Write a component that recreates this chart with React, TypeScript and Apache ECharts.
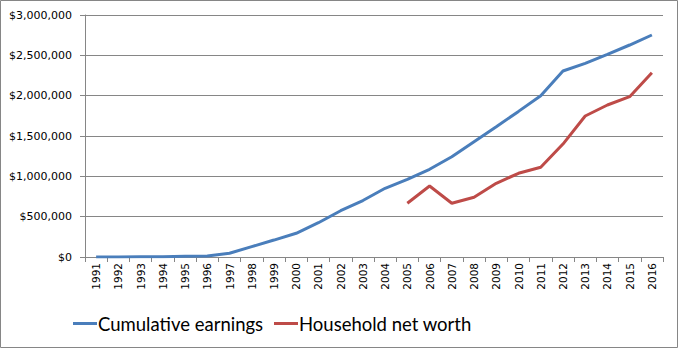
import React, { useEffect, useRef } from "react";
import * as echarts from "echarts";

const years = [
  "1991", "1992", "1993", "1994", "1995", "1996", "1997", "1998", "1999", "2000",
  "2001", "2002", "2003", "2004", "2005", "2006", "2007", "2008", "2009", "2010",
  "2011", "2012", "2013", "2014", "2015", "2016",
];

const cumulativeEarnings = [
  0, 1000, 2000, 3000, 8000, 12000, 46000, 128000, 210000, 294000,
  425000, 574000, 700000, 852000, 963000, 1087000, 1243000, 1430000, 1615000, 1805000,
  2000000, 2306000, 2401000, 2513000, 2628000, 2752000,
];

const householdNetWorth = [
  null, null, null, null, null, null, null, null, null, null,
  null, null, null, null, 666000, 880000, 666000, 740000, 914000, 1038000,
  1112000, 1400000, 1748000, 1884000, 1987000, 2285000,
];

const seriesNames = ["Cumulative earnings", "Household net worth"];

function formatDollar(v: number): string {
  return "$" + v.toString().replace(/\B(?=(\d{3})+(?!\d))/g, ",");
}

export default function App() {
  const ref = useRef<HTMLDivElement>(null);
  useEffect(() => {
    if (!ref.current) return;
    const chart = echarts.init(ref.current, undefined, { renderer: "svg" });
    const legendBase = {
      top: 309,
      icon: "rect",
      itemWidth: 24,
      itemHeight: 3,
      textStyle: {
        fontFamily: "Lato",
        fontSize: 18.5,
        color: "#000000",
        padding: [0, 0, 0, -4],
      },
    };
    chart.setOption({
      animation: false,
      backgroundColor: "#ffffff",
      graphic: [
        {
          type: "rect",
          shape: { x: 0.5, y: 0.5, width: 677, height: 347 },
          style: { fill: "none", stroke: "#868686", lineWidth: 1 },
          silent: true,
        },
      ],
      grid: { left: 85, right: 16, top: 15, bottom: 92 },
      legend: [
        { ...legendBase, left: 68, data: [seriesNames[0]] },
        { ...legendBase, left: 269, data: [seriesNames[1]] },
      ],
      xAxis: {
        type: "category",
        data: years,
        boundaryGap: true,
        axisLine: { lineStyle: { color: "#868686" } },
        axisTick: { show: true, length: 5, lineStyle: { color: "#868686" } },
        axisLabel: {
          rotate: 90,
          interval: 0,
          fontFamily: "DejaVu Sans",
          fontSize: 10.5,
          color: "#000000",
          margin: 6,
        },
      },
      yAxis: {
        type: "value",
        min: 0,
        max: 3000000,
        interval: 500000,
        axisLine: { show: true, lineStyle: { color: "#868686" } },
        axisTick: { show: true, length: 5, lineStyle: { color: "#868686" } },
        splitLine: { lineStyle: { color: "#868686" } },
        axisLabel: {
          formatter: (v: number) => formatDollar(v),
          fontFamily: "DejaVu Sans",
          fontSize: 11,
          color: "#000000",
          margin: 13,
        },
      },
      series: [
        {
          name: seriesNames[0],
          type: "line",
          data: cumulativeEarnings,
          symbol: "none",
          lineStyle: { color: "#4a7ebb", width: 3 },
          itemStyle: { color: "#4a7ebb" },
        },
        {
          name: seriesNames[1],
          type: "line",
          data: householdNetWorth,
          symbol: "none",
          connectNulls: false,
          lineStyle: { color: "#be4b48", width: 3 },
          itemStyle: { color: "#be4b48" },
        },
      ],
    });
    return () => chart.dispose();
  }, []);
  return (
    <div
      ref={ref}
      style={{ position: "absolute", left: 0, top: 0, width: 679, height: 349 }}
    />
  );
}
